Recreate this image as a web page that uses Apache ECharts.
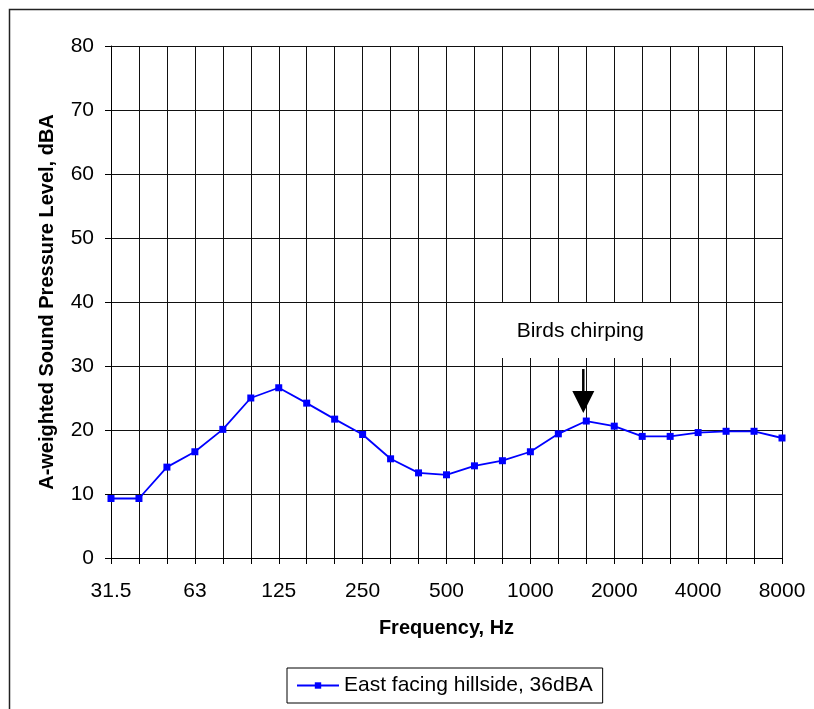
<!DOCTYPE html>
<html>
<head>
<meta charset="utf-8">
<script src="https://cdn.jsdelivr.net/npm/echarts@6/dist/echarts.min.js"></script>
<style>
html,body{margin:0;padding:0;background:#fff;}
#chart{width:814px;height:709px;}
</style>
</head>
<body>
<div id="chart"></div>
<script>
var frequencies = ['31.5','40','50','63','80','100','125','160','200','250','315','400','500','630','800','1000','1250','1600','2000','2500','3150','4000','5000','6300','8000'];
var levels = [9.3, 9.3, 14.2, 16.6, 20.1, 25.0, 26.6, 24.2, 21.7, 19.3, 15.5, 13.3, 13.0, 14.4, 15.2, 16.6, 19.4, 21.4, 20.6, 19.0, 19.0, 19.6, 19.8, 19.8, 18.75];
var seriesName = 'East facing hillside, 36dBA';
var annotationText = 'Birds chirping';
var annotationIndex = 17;

var FONT = '"Liberation Sans", Arial, sans-serif';
var chart = echarts.init(document.getElementById('chart'), null, {renderer: 'canvas'});

var option = {
  animation: false,
  backgroundColor: '#fff',
  textStyle: {fontFamily: FONT, color: '#000'},
  grid: {left: 111, right: 32, top: 46, bottom: 151, containLabel: false},
  xAxis: {
    type: 'category',
    data: frequencies,
    boundaryGap: false,
    name: 'Frequency, Hz',
    nameLocation: 'middle',
    nameGap: 60,
    nameTextStyle: {fontFamily: FONT, fontSize: 20, fontWeight: 'bold', color: '#000'},
    axisLine: {lineStyle: {color: '#000', width: 1}},
    axisTick: {show: true, length: 6, interval: 0, alignWithLabel: true, lineStyle: {color: '#000'}},
    axisLabel: {interval: 2, fontFamily: FONT, fontSize: 21, color: '#000', margin: 23},
    splitLine: {show: true, interval: 0, lineStyle: {color: '#111', width: 1}}
  },
  yAxis: {
    type: 'value',
    min: 0, max: 80, interval: 10,
    name: 'A-weighted Sound Pressure Level, dBA',
    nameLocation: 'middle',
    nameGap: 54,
    nameTextStyle: {fontFamily: FONT, fontSize: 20, fontWeight: 'bold', color: '#000'},
    axisLine: {show: true, lineStyle: {color: '#000', width: 1}},
    axisTick: {show: true, length: 6, lineStyle: {color: '#000'}},
    axisLabel: {fontFamily: FONT, fontSize: 21, color: '#000', margin: 17},
    splitLine: {show: true, lineStyle: {color: '#111', width: 1}}
  },
  legend: {
    left: 287, top: 668,
    padding: [7, 10, 7, 9],
    borderColor: '#000', borderWidth: 1,
    itemWidth: 42, itemHeight: 8, itemGap: 6,
    textStyle: {fontFamily: FONT, fontSize: 21, color: '#000'},
    data: [seriesName]
  },
  series: [{
    name: seriesName,
    type: 'line',
    data: levels,
    symbol: 'rect',
    symbolSize: 7,
    lineStyle: {color: '#0000FF', width: 1.8},
    itemStyle: {color: '#0000FF'},
    z: 5
  }]
};
chart.setOption(option);

function drawAnnotation() {
  var p = chart.convertToPixel({gridIndex: 0}, [annotationIndex, levels[annotationIndex]]);
  var px = p[0], py = p[1];
  chart.setOption({
    graphic: [
      {type: 'rect', silent: true, z: 1, shape: {x: 9.5, y: 9.5, width: 900, height: 900}, style: {fill: null, stroke: '#222', lineWidth: 1.5}},
      {type: 'rect', z: 10, shape: {x: px - 111, y: py - 118, width: 222, height: 55}, style: {fill: '#fff', stroke: null}},
      {type: 'text', z: 11, x: px - 6, y: py - 90, style: {text: annotationText, fontFamily: FONT, fontSize: 21, fill: '#000', align: 'center', verticalAlign: 'middle'}},
      {type: 'line', z: 11, shape: {x1: px - 3, y1: py - 52, x2: px - 3, y2: py - 29}, style: {stroke: '#000', lineWidth: 2.5}},
      {type: 'polygon', z: 11, shape: {points: [[px - 14, py - 30], [px + 8, py - 30], [px - 3, py - 8]]}, style: {fill: '#000'}}
    ]
  });
}
drawAnnotation();
</script>
</body>
</html>
